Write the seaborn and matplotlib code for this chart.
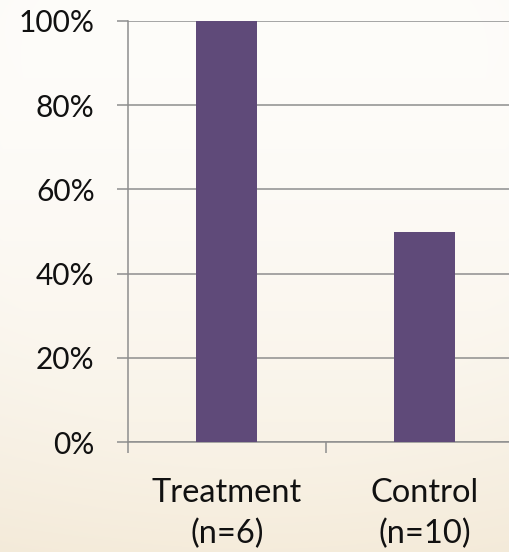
import numpy as np
import matplotlib
matplotlib.use("Agg")
import matplotlib.pyplot as plt
import seaborn as sns
from matplotlib.ticker import FixedLocator, PercentFormatter

# Data
groups = ["Treatment\n(n=6)", "Control\n(n=10)"]
rates = [100, 50]
y_ticks = [0, 20, 40, 60, 80, 100]

bar_color = "#5f4a79"
grid_color = "#8e8e8e"
text_color = "#111111"

sns.set_theme(style="white")
plt.rcParams["font.family"] = ["Lato", "DejaVu Sans"]

W, H, DPI = 509, 552, 100
fig = plt.figure(figsize=(W / DPI, H / DPI), dpi=DPI)

# Warm parchment backdrop: light at the top, deeper beige toward the bottom
bg = fig.add_axes([0, 0, 1, 1], zorder=-10)
yy, xx = np.mgrid[0:1:H * 1j, 0:1:W * 1j]
top = np.array([0.995, 0.99, 0.98])
bottom = np.array([0.965, 0.93, 0.865])
t = np.clip(yy, 0, 1) ** 1.8
r = np.sqrt((xx - 0.5) ** 2 + (yy - 0.35) ** 2)
edge = np.clip(r - 0.5, 0, 1) * 0.10
img = top[None, None, :] * (1 - t[..., None]) + bottom[None, None, :] * t[..., None]
img = img - edge[..., None] * np.array([0.3, 0.35, 0.4])
bg.imshow(np.clip(img, 0, 1), aspect="auto", extent=[0, 1, 0, 1], origin="upper")
bg.axis("off")

ax = fig.add_axes([128 / W, 110 / H, 395.4 / W, 421 / H])
ax.patch.set_alpha(0)

sns.barplot(x=groups, y=rates, color=bar_color, saturation=1, width=0.31,
            linewidth=0, ax=ax, zorder=3)

ax.set_xlim(-0.5, 1.5)
ax.set_ylim(0, 100)
ax.yaxis.set_major_locator(FixedLocator(y_ticks))
ax.yaxis.set_major_formatter(PercentFormatter(decimals=0))
ax.yaxis.grid(True, color=grid_color, linewidth=1.1, zorder=0)
ax.set_axisbelow(True)

# Category boundaries carry the tick marks; labels sit between them
ax.set_xticks([-0.5, 0.5, 1.5])
ax.set_xticklabels(["", "", ""])
ax.set_xticks([0, 1], minor=True)
ax.set_xticklabels(groups, minor=True, fontsize=23.5, color=text_color, linespacing=1.42)
ax.tick_params(axis="x", which="major", length=8, width=1.1, color=grid_color, direction="out")
ax.tick_params(axis="x", which="minor", length=0, pad=26)
ax.tick_params(axis="y", length=8, width=1.1, color=grid_color, direction="out", pad=16,
               labelsize=21.5, labelcolor=text_color)
ax.tick_params(axis="both", bottom=True, left=True)

for side in ["top", "right"]:
    ax.spines[side].set_visible(False)
for side in ["left", "bottom"]:
    ax.spines[side].set_color(grid_color)
    ax.spines[side].set_linewidth(1.1)

ax.set_xlabel("")
ax.set_ylabel("")

fig.savefig("out.png", dpi=DPI)
